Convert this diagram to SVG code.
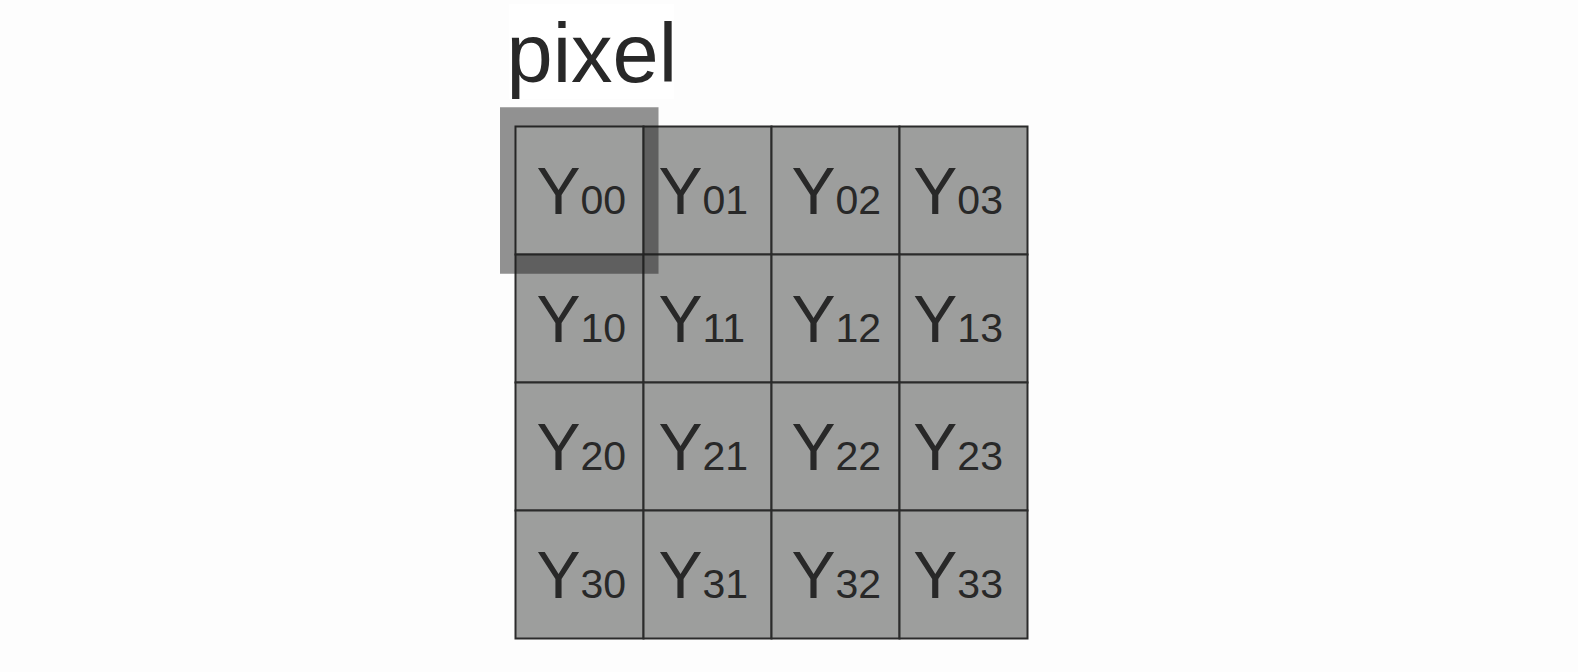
<svg xmlns="http://www.w3.org/2000/svg" width="1578" height="672" viewBox="0 0 1578 672">
  <style>
    .cell { fill: #9d9e9d; stroke: #2b2b2b; stroke-width: 2; }
    .lbl { font-family: "Liberation Sans", Arial, sans-serif; fill: #282828; font-size: 66px; }
    .sub { font-size: 41px; }
    .title { font-family: "Liberation Sans", Arial, sans-serif; fill: #282828; font-size: 83px; }
  </style>
  <rect x="0" y="0" width="1578" height="672" fill="#fdfdfd"/>
  <g id="title">
    <rect x="509" y="4" width="165" height="95" fill="#ffffff"/>
    <text class="title" x="506.5" y="81.7">pixel</text>
  </g>
  <g id="grid">
    <g id="c00"><rect class="cell" x="515.5" y="126.5" width="128" height="128"/><text class="lbl" x="536.5" y="213.5">Y<tspan class="sub">00</tspan></text></g>
    <g id="c01"><rect class="cell" x="643.5" y="126.5" width="128" height="128"/><text class="lbl" x="658.5" y="213.5">Y<tspan class="sub">01</tspan></text></g>
    <g id="c02"><rect class="cell" x="771.5" y="126.5" width="128" height="128"/><text class="lbl" x="791.5" y="213.5">Y<tspan class="sub">02</tspan></text></g>
    <g id="c03"><rect class="cell" x="899.5" y="126.5" width="128" height="128"/><text class="lbl" x="913.3" y="213.5">Y<tspan class="sub">03</tspan></text></g>

    <g id="c10"><rect class="cell" x="515.5" y="254.5" width="128" height="128"/><text class="lbl" x="536.5" y="341.8">Y<tspan class="sub">10</tspan></text></g>
    <g id="c11"><rect class="cell" x="643.5" y="254.5" width="128" height="128"/><text class="lbl" x="658.5" y="341.8">Y<tspan class="sub">11</tspan></text></g>
    <g id="c12"><rect class="cell" x="771.5" y="254.5" width="128" height="128"/><text class="lbl" x="791.5" y="341.8">Y<tspan class="sub">12</tspan></text></g>
    <g id="c13"><rect class="cell" x="899.5" y="254.5" width="128" height="128"/><text class="lbl" x="913.3" y="341.8">Y<tspan class="sub">13</tspan></text></g>

    <g id="c20"><rect class="cell" x="515.5" y="382.5" width="128" height="128"/><text class="lbl" x="536.5" y="470">Y<tspan class="sub">20</tspan></text></g>
    <g id="c21"><rect class="cell" x="643.5" y="382.5" width="128" height="128"/><text class="lbl" x="658.5" y="470">Y<tspan class="sub">21</tspan></text></g>
    <g id="c22"><rect class="cell" x="771.5" y="382.5" width="128" height="128"/><text class="lbl" x="791.5" y="470">Y<tspan class="sub">22</tspan></text></g>
    <g id="c23"><rect class="cell" x="899.5" y="382.5" width="128" height="128"/><text class="lbl" x="913.3" y="470">Y<tspan class="sub">23</tspan></text></g>

    <g id="c30"><rect class="cell" x="515.5" y="510.5" width="128" height="128"/><text class="lbl" x="536.5" y="598.3">Y<tspan class="sub">30</tspan></text></g>
    <g id="c31"><rect class="cell" x="643.5" y="510.5" width="128" height="128"/><text class="lbl" x="658.5" y="598.3">Y<tspan class="sub">31</tspan></text></g>
    <g id="c32"><rect class="cell" x="771.5" y="510.5" width="128" height="128"/><text class="lbl" x="791.5" y="598.3">Y<tspan class="sub">32</tspan></text></g>
    <g id="c33"><rect class="cell" x="899.5" y="510.5" width="128" height="128"/><text class="lbl" x="913.3" y="598.3">Y<tspan class="sub">33</tspan></text></g>
  </g>
  <g id="highlight">
    <path d="M500 107.3 H658.5 V273.7 H500 Z M515.5 126.5 V254.5 H643.5 V126.5 Z" fill="#1c1c1c" fill-opacity="0.48" fill-rule="evenodd"/>
  </g>
</svg>
